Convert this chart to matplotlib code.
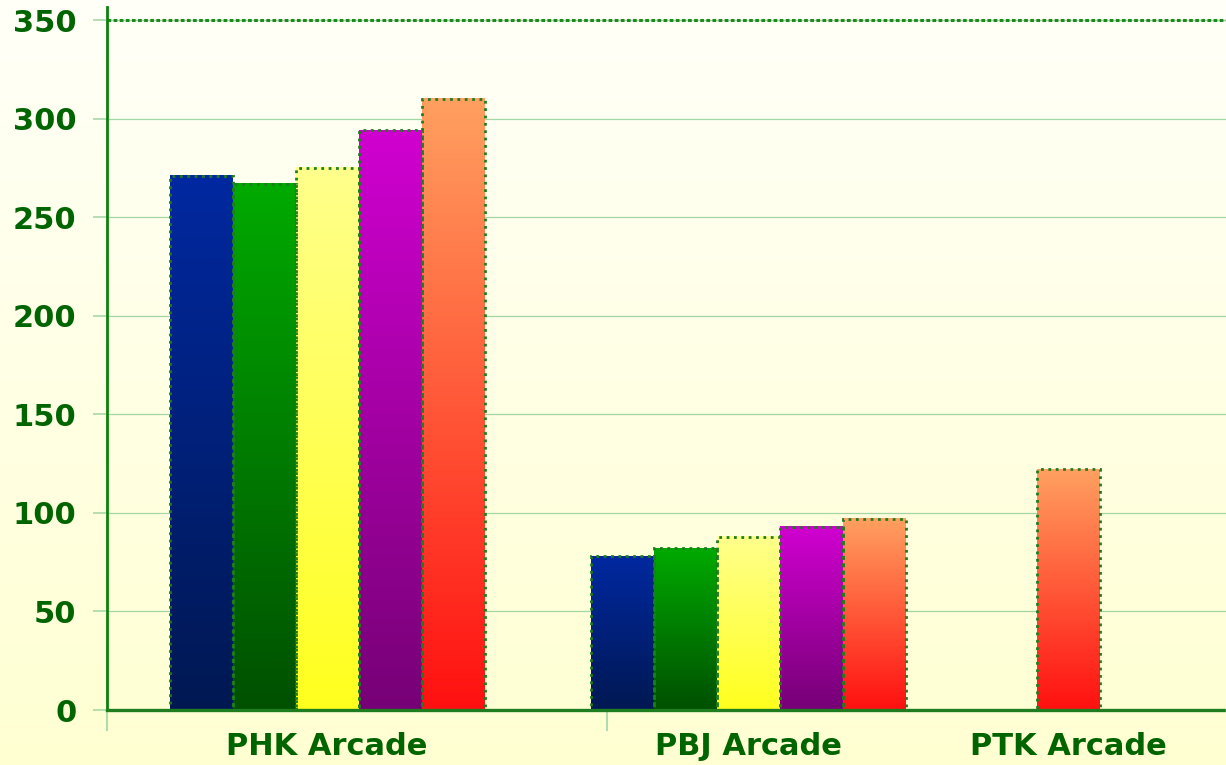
import numpy as np
import matplotlib.pyplot as plt
from matplotlib.colors import to_rgb

categories = ['PHK Arcade', 'PBJ Arcade', 'PTK Arcade']
group_pos = [220, 641, 961]

# one list per series, nan where a group has no bar
s_blue = [271, 78, np.nan]
s_green = [267, 82, np.nan]
s_yellow = [275, 88, np.nan]
s_magenta = [294, 93, np.nan]
s_orange = [310, 97, 122]
series = [s_blue, s_green, s_yellow, s_magenta, s_orange]

# (top colour, bottom colour) of each bar gradient
shades = [('#0028A0', '#001852'),
          ('#00AA00', '#005000'),
          ('#FFFF8C', '#FFFF1E'),
          ('#D000D0', '#760076'),
          ('#FFA060', '#FF1010')]

yticks = [0, 50, 100, 150, 200, 250, 300, 350]

W, H = 1226, 765
fig = plt.figure(figsize=(W / 100, H / 100), dpi=100)

# background wash, almost white at the top to pale yellow at the bottom
bg = fig.add_axes([0, 0, 1, 1], zorder=-5)
t = np.linspace(0, 1, 256)[:, None, None]
top = np.array(to_rgb('#FFFFF8'))
bot = np.array(to_rgb('#FFFFD2'))
bg.imshow(top * (1 - t) + bot * t, aspect='auto', extent=[0, 1, 0, 1])
bg.axis('off')

ax = fig.add_axes([107 / W, 55 / H, 1 - 107 / W, (710 - 7) / H])
ax.patch.set_alpha(0)

bar_w = 63
grad = np.linspace(0, 1, 200)[:, None, None]
for g, xc in enumerate(group_pos):
    present = [i for i in range(len(series)) if not np.isnan(series[i][g])]
    n = len(present)
    for k, i in enumerate(present):
        v = series[i][g]
        x0 = xc + (k - n / 2) * bar_w
        c_top = np.array(to_rgb(shades[i][0]))
        c_bot = np.array(to_rgb(shades[i][1]))
        ax.imshow(c_top * (1 - grad) + c_bot * grad, aspect='auto',
                  extent=[x0, x0 + bar_w, 0, v], zorder=2)
        ax.bar(x0, v, width=bar_w, align='edge', facecolor='none',
               edgecolor='#1E7D1E', linewidth=2, linestyle=':', zorder=3)

ax.set_xlim(0, W - 107)
ax.set_ylim(0, 350 + 13 / 1.971)

for y in yticks[1:-1]:
    ax.axhline(y, color='#A2D6A2', linewidth=0.9, zorder=1)
ax.axhline(350, color='#A2D6A2', linewidth=1.0, zorder=1)
ax.axhline(350, color='#1E8A1E', linewidth=2.2, linestyle=(0, (1.2, 0.8)), zorder=1)

for s in ['top', 'right']:
    ax.spines[s].set_visible(False)
ax.spines['left'].set_color('#0A820A')
ax.spines['left'].set_linewidth(2)
ax.spines['bottom'].set_color('#1E7D1E')
ax.spines['bottom'].set_linewidth(2.4)
ax.spines['bottom'].set_linestyle((0, (2, 1)))
ax.spines['bottom'].set_zorder(4)

ax.set_yticks(yticks)
ax.set_yticklabels([str(v) for v in yticks])
ax.tick_params(axis='y', length=10, width=1.2, color='#A8D8A8', pad=12,
               labelsize=22, labelcolor='#006400')

ax.set_xticks(group_pos)
ax.set_xticklabels(categories)
ax.tick_params(axis='x', which='major', length=0, pad=16,
               labelsize=22, labelcolor='#006400')
ax.set_xticks([0, 500], minor=True)
ax.tick_params(axis='x', which='minor', length=15, width=1.5, color='#B0DAB0')

for lab in ax.get_xticklabels() + ax.get_yticklabels():
    lab.set_fontweight('bold')

fig.savefig('out.png', dpi=100)
